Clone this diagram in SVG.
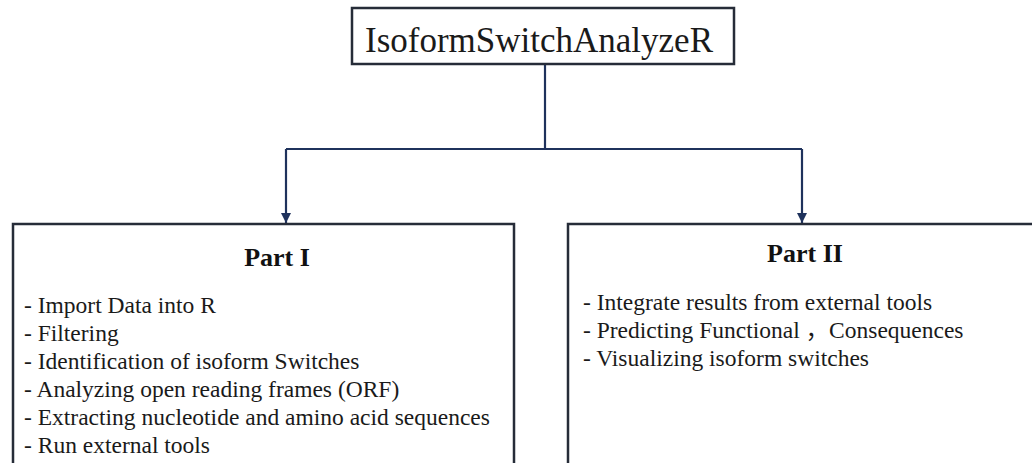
<svg xmlns="http://www.w3.org/2000/svg" width="1032" height="463" viewBox="0 0 1032 463">
  <style>
    .box { fill: #ffffff; stroke: #262c38; stroke-width: 2.5; }
    .wire { fill: none; stroke: #1f325c; stroke-width: 2.2; }
    text { font-family: 'Liberation Serif', 'DejaVu Serif', serif; fill: #1a1a1a; }
    .title { font-size: 35px; }
    .head { font-size: 26px; font-weight: bold; fill: #111111; }
    .item { font-family: 'Liberation Serif', 'Noto Sans CJK SC', serif; font-size: 23.5px; }
  </style>
  <defs>
    <marker id="arrow" viewBox="0 0 10 10" refX="10" refY="5" markerWidth="10" markerHeight="10" markerUnits="userSpaceOnUse" orient="auto">
      <path d="M0,0 L10,5 L0,10 z" fill="#1f325c"/>
    </marker>
  </defs>
  <rect width="1032" height="463" fill="#ffffff"/>

  <!-- connectors: root down to a bus, then a branch into each part -->
  <g id="connectors">
    <path class="wire" d="M545,64 V149"/>
    <path class="wire" d="M286,149 H802"/>
    <path class="wire" d="M286,149 V223" marker-end="url(#arrow)"/>
    <path class="wire" d="M802,149 V223" marker-end="url(#arrow)"/>
  </g>

  <g id="root">
    <rect class="box" x="352" y="8" width="382" height="56"/>
    <text class="title" x="539" y="52" text-anchor="middle">IsoformSwitchAnalyzeR</text>
  </g>

  <g id="part1">
    <rect class="box" x="13" y="224" width="501" height="260"/>
    <text class="head" x="277" y="266" text-anchor="middle">Part I</text>
    <text class="item" x="24" y="313">- Import Data into R</text>
    <text class="item" x="24" y="341">- Filtering</text>
    <text class="item" x="24" y="369">- Identification of isoform Switches</text>
    <text class="item" x="24" y="397">- Analyzing open reading frames (ORF)</text>
    <text class="item" x="24" y="425">- Extracting nucleotide and amino acid sequences</text>
    <text class="item" x="24" y="453">- Run external tools</text>
  </g>

  <g id="part2">
    <rect class="box" x="568" y="224" width="470" height="260"/>
    <text class="head" x="805" y="262" text-anchor="middle">Part II</text>
    <text class="item" x="583" y="310">- Integrate results from external tools</text>
    <text class="item" x="583" y="338">- Predicting Functional ，Consequences</text>
    <text class="item" x="583" y="366">- Visualizing isoform switches</text>
  </g>
</svg>
